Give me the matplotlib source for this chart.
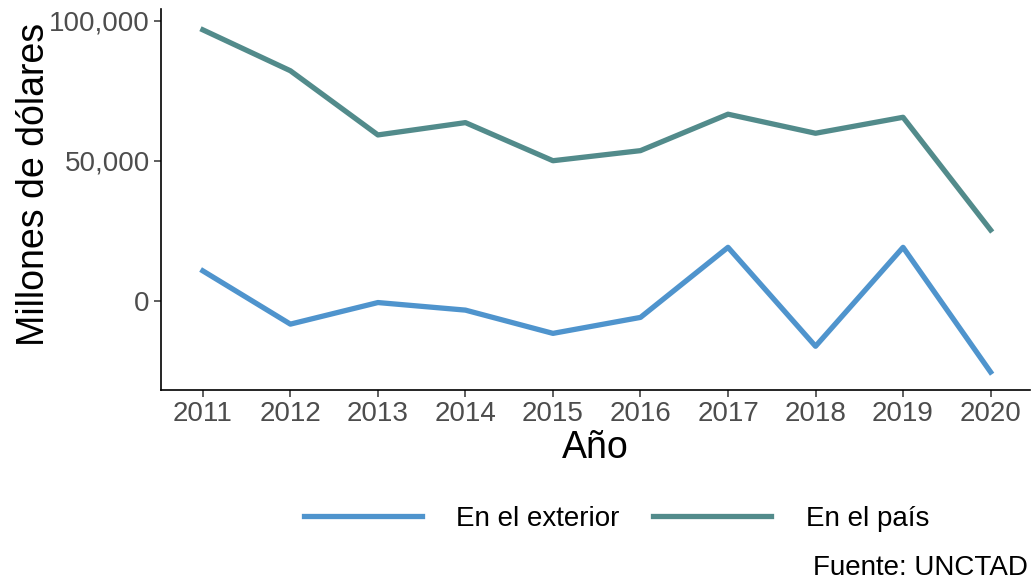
import numpy as np
import matplotlib
matplotlib.use('Agg')
from matplotlib import pyplot as plt
from matplotlib.ticker import FuncFormatter

# Data
anios = [2011, 2012, 2013, 2014, 2015, 2016, 2017, 2018, 2019, 2020]
exterior = [10700, -8300, -600, -3300, -11600, -5900, 19100, -16200, 19100, -25400]
pais = [96700, 82100, 59200, 63600, 50000, 53600, 66600, 59800, 65500, 25300]

plt.rcParams['font.family'] = ['Liberation Sans', 'DejaVu Sans']

fig = plt.figure(figsize=(10.31, 5.86), dpi=100)
ax = fig.add_axes([0.156, 0.334, 0.843, 0.65])

ax.plot(anios, exterior, color='#4F94CD', lw=3.8, label='En el exterior')
ax.plot(anios, pais, color='#528B8B', lw=3.8, label='En el país')

ax.set_xlim(2011 - 0.48, 2020 + 0.45)
ax.set_ylim(-31900, 104000)
ax.set_xticks(anios)
ax.set_yticks([0, 50000, 100000])
ax.yaxis.set_major_formatter(FuncFormatter(lambda v, p: '{:,.0f}'.format(v)))

for s in ['top', 'right']:
    ax.spines[s].set_visible(False)
for s in ['left', 'bottom']:
    ax.spines[s].set_linewidth(1.2)
ax.tick_params(labelsize=20, labelcolor='#4d4d4d', color='#333333', length=5, width=1.1, pad=3)

ax.set_xlabel('Año', fontsize=27, labelpad=2)
ax.set_ylabel('Millones de dólares', fontsize=27, labelpad=0)
ax.yaxis.set_label_coords(-0.125, 0.54)

fig.legend(loc='center', bbox_to_anchor=(0.598, 0.114), ncol=2, frameon=False,
           fontsize=20, handlelength=4.25, columnspacing=1.2, handletextpad=1.25)

fig.text(0.997, 0.008, 'Fuente: UNCTAD', ha='right', va='bottom', fontsize=20)

fig.savefig('out.png', dpi=100)
